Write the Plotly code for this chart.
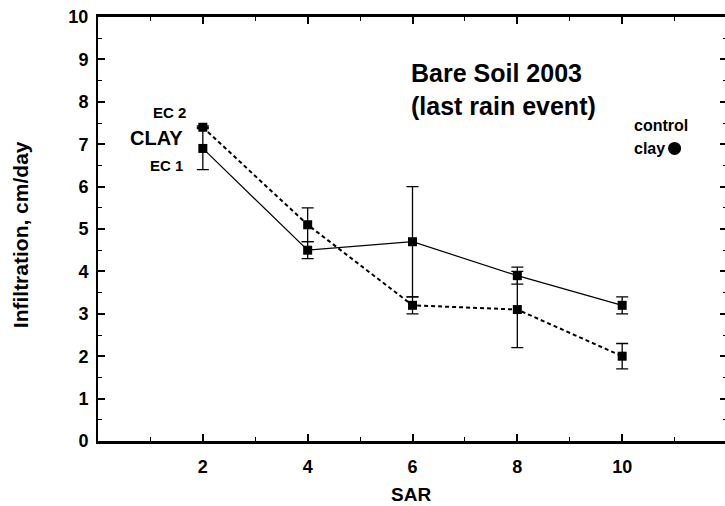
import plotly.graph_objects as go

# ---- data ----
sar = [2, 4, 6, 8, 10]
ec1 = [6.9, 4.5, 4.7, 3.9, 3.2]
ec1_err = [0.5, 0.2, 1.3, 0.2, 0.2]
ec2 = [7.4, 5.1, 3.2, 3.1, 2.0]
ec2_err = [0.03, 0.4, 0.2, 0.9, 0.3]
control_x = [11]
control_y = [6.9]
x_ticks = [2, 4, 6, 8, 10]
y_ticks = [0, 1, 2, 3, 4, 5, 6, 7, 8, 9, 10]

FONT = "Liberation Sans, Arial, sans-serif"

fig = go.Figure()

fig.add_trace(go.Scatter(
    x=sar, y=ec1, mode="lines+markers", name="EC 1",
    line=dict(color="black", width=1.2),
    marker=dict(symbol="square", size=9, color="black"),
    error_y=dict(type="data", array=ec1_err, visible=True, color="black",
                 thickness=1.3, width=6),
))
fig.add_trace(go.Scatter(
    x=sar, y=ec2, mode="lines+markers", name="EC 2",
    line=dict(color="black", width=2, dash="4px,3px"),
    marker=dict(symbol="square", size=9, color="black"),
    error_y=dict(type="data", array=ec2_err, visible=True, color="black",
                 thickness=1.3, width=6),
))
fig.add_trace(go.Scatter(
    x=control_x, y=control_y, mode="markers", name="control clay",
    marker=dict(symbol="circle", size=13, color="black"),
))

def ann(text, x, y, size, xanchor="right", yanchor="middle", xref="x", yref="y",
        align="right", angle=0):
    fig.add_annotation(text=text, x=x, y=y, xref=xref, yref=yref,
                       xanchor=xanchor, yanchor=yanchor, showarrow=False,
                       align=align, textangle=angle,
                       font=dict(family=FONT, size=size, color="black", weight="bold"))

ann("EC 2", 1.72, 7.74, 15)
ann("CLAY", 1.66, 7.15, 20)
ann("EC 1", 1.66, 6.5, 15)
ann("control", 10.74, 7.43, 16, xanchor="center")
ann("clay", 10.86, 6.9, 16)
ann("Bare Soil 2003<br>(last rain event)", 0.4945, 0.905, 25,
    xanchor="left", yanchor="top", xref="paper", yref="paper", align="left")
ann("Infiltration, cm/day", -0.122, 0.486, 21, xanchor="center",
    xref="paper", yref="paper", align="center", angle=-90)
ann("SAR", 0.4976, -0.125, 19, xanchor="center", xref="paper", yref="paper",
    align="center")

fig.update_xaxes(
    range=[0, 12], tickvals=x_ticks, ticks="inside", ticklen=7, tickwidth=1.5,
    tickcolor="black", showline=True, linewidth=2.5, linecolor="black",
    mirror="allticks", showgrid=False, zeroline=False, ticklabelstandoff=8,
    tickfont=dict(family=FONT, size=18, color="black", weight="bold"),
    minor=dict(dtick=1, tick0=0, ticks="inside", ticklen=4, tickwidth=1,
               tickcolor="black", showgrid=False),
)
fig.update_yaxes(
    range=[0, 10], tickvals=y_ticks, ticks="inside", ticklen=7, tickwidth=1.5,
    tickcolor="black", showline=True, linewidth=2, linecolor="black",
    mirror="allticks", showgrid=False, zeroline=False, ticklabelstandoff=4,
    tickfont=dict(family=FONT, size=18, color="black", weight="bold"),
    minor=dict(dtick=0.5, tick0=0, ticks="inside", ticklen=4, tickwidth=1,
               tickcolor="black", showgrid=False),
)

# the frame's right edge (x = 12) lies just past the 725px window, as in the reference
fig.update_layout(
    width=729, height=506,
    margin=dict(l=98, r=0, t=17, b=65),
    paper_bgcolor="white", plot_bgcolor="white",
    showlegend=False,
    font=dict(family=FONT, color="black"),
)

# remove the default page margin so the figure sits at the window's corner
fig.write_html(
    "out.html",
    config={"displayModeBar": False},
    post_script="document.body.style.margin='0';document.body.style.overflow='hidden';",
)
